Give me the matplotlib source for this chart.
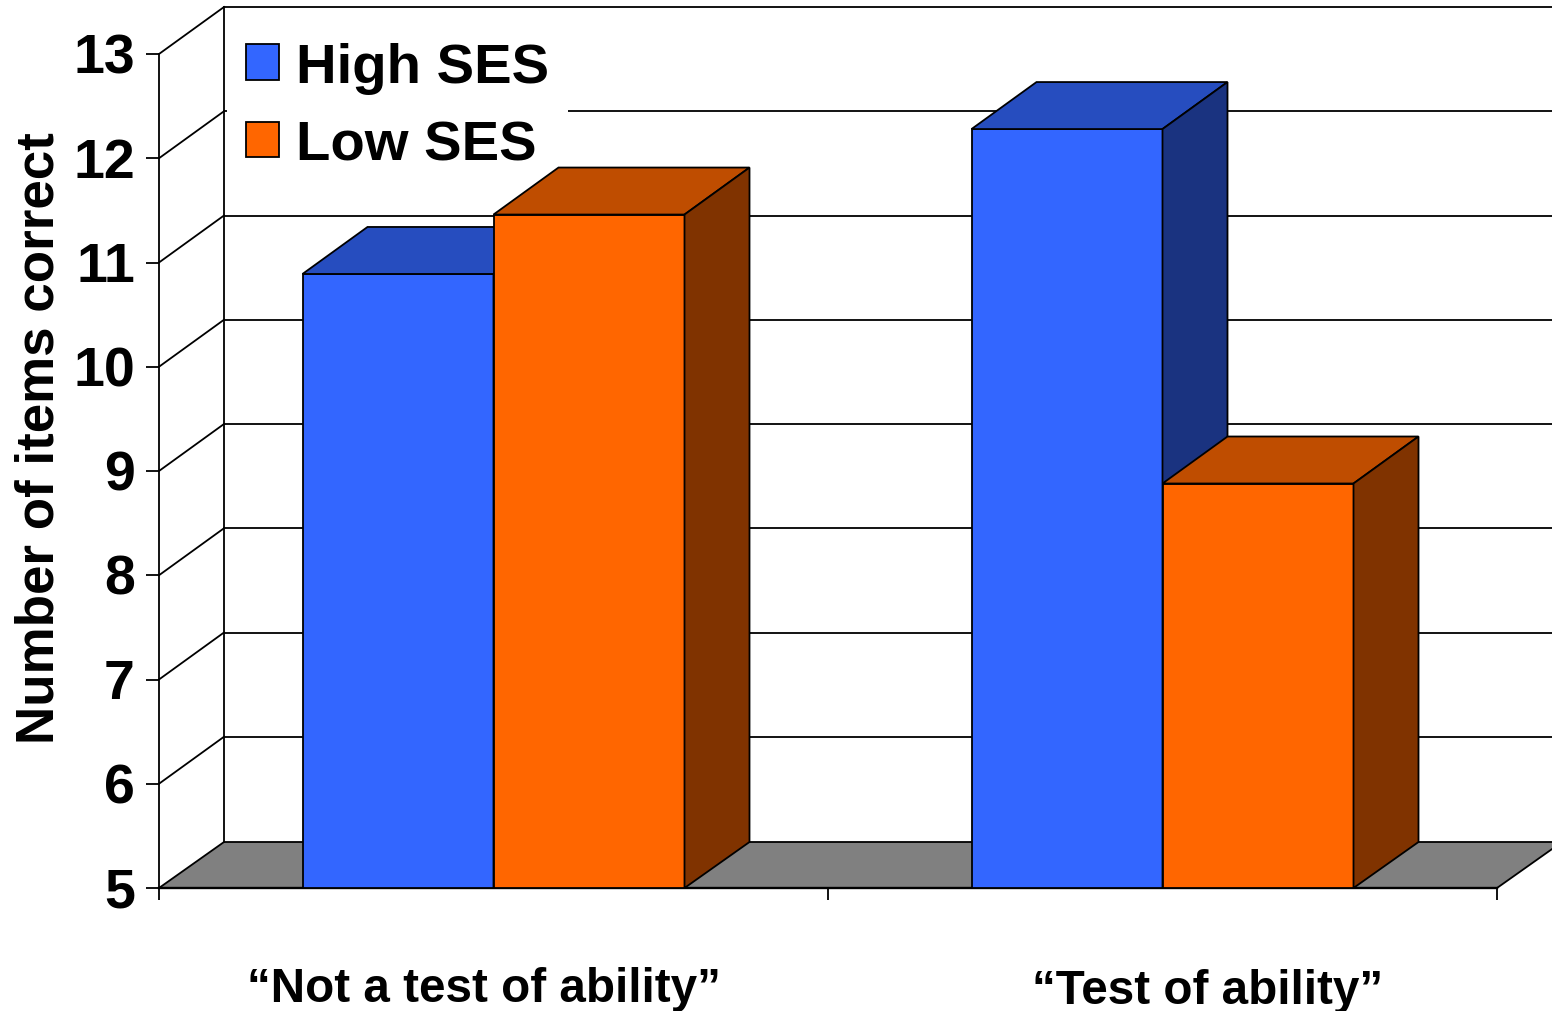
import matplotlib
matplotlib.use("Agg")
import matplotlib.pyplot as plt
from matplotlib.patches import Patch, Polygon
from matplotlib.transforms import ScaledTranslation

plt.rcParams['font.family'] = ['Liberation Sans', 'DejaVu Sans']
plt.rcParams['font.weight'] = 'bold'

conditions = ["\u201cNot a test of ability\u201d", "\u201cTest of ability\u201d"]
high_ses = [10.89, 12.28]
low_ses = [11.46, 8.88]
y_ticks = [5, 6, 7, 8, 9, 10, 11, 12, 13]

BLUE = ('#3366FF', '#264DBF', '#1A3380')
ORANGE = ('#FF6600', '#BF4D00', '#803300')

W, H = 1552, 1012
LEFT, RIGHT, TOP, BOTTOM = 159, 1497, 55, 889

# depth of the fake 3d box, in data units
DX = 65 / 669
DY = 47 / 104.25
FLOOR_DY = 46 / 104.25
BAR_W = 191 / 669
LW = 1.3


def bar3d(ax, x, val, colors):
    x0, x1 = x, x + BAR_W
    ax.bar(x0, val - 5, BAR_W, bottom=5, align='edge', color=colors[0],
           edgecolor='black', linewidth=LW, zorder=3, clip_on=False)
    top = [(x0, val), (x1, val), (x1 + DX, val + DY), (x0 + DX, val + DY)]
    side = [(x1, val), (x1, 5), (x1 + DX, 5 + FLOOR_DY), (x1 + DX, val + DY)]
    ax.add_patch(Polygon(top, fc=colors[1], ec='black', lw=LW, zorder=3, clip_on=False))
    ax.add_patch(Polygon(side, fc=colors[2], ec='black', lw=LW, zorder=3, clip_on=False))


fig = plt.figure(figsize=(W / 100, H / 100), dpi=100)
ax = fig.add_axes([LEFT / W, (H - BOTTOM) / H, (RIGHT - LEFT) / W, (BOTTOM - TOP) / H])
ax.set_xlim(0, 2)
ax.set_ylim(5, 13)

# floor
floor = [(0, 5), (2, 5), (2 + DX, 5 + FLOOR_DY), (DX, 5 + FLOOR_DY)]
ax.add_patch(Polygon(floor, fc='#808080', ec='black', lw=LW, zorder=1, clip_on=False))

# back wall lines and the diagonals going to the axis
for v in y_ticks[1:]:
    ax.plot([DX, 2 + DX], [v + DY, v + DY], color='black', lw=LW, zorder=1, clip_on=False)
    ax.plot([0, DX], [v, v + DY], color='black', lw=LW, zorder=1, clip_on=False)
ax.plot([DX, DX], [5 + FLOOR_DY, 13 + DY], color='black', lw=LW, zorder=2.6, clip_on=False)

for i in range(len(conditions)):
    center = i + 0.5
    bar3d(ax, center - BAR_W, high_ses[i], BLUE)
    bar3d(ax, center, low_ses[i], ORANGE)

ax.spines['top'].set_visible(False)
ax.spines['right'].set_visible(False)
ax.spines['left'].set_linewidth(LW)
ax.spines['bottom'].set_linewidth(1.7)
ax.set_yticks(y_ticks)
ax.set_xticks([0, 1, 2])
ax.set_xticklabels([])
ax.tick_params(axis='y', length=9.4, width=LW, labelsize=40, pad=8)
ax.tick_params(axis='x', length=8.6, width=LW)
# digits sit a little higher than the tick marks
for lab in ax.get_yticklabels():
    lab.set_transform(lab.get_transform() + ScaledTranslation(0, 1.5 / 100, fig.dpi_scale_trans))

ax.set_ylabel("Number of items correct", fontsize=38.1, fontweight='bold', va='center')
ax.yaxis.set_label_coords((40 - LEFT) / (RIGHT - LEFT), (BOTTOM - 438) / (BOTTOM - TOP))

ax.text(0.486, 4.04, conditions[0], fontsize=34.3, fontweight='bold', ha='center', va='center')
ax.text(1.568, 4.02, conditions[1], fontsize=34.3, fontweight='bold', ha='center', va='center')

handles = [Patch(fc=BLUE[0], ec='black', lw=LW), Patch(fc=ORANGE[0], ec='black', lw=LW)]
leg = ax.legend(handles, ["High SES", "Low SES"], loc='upper left',
                bbox_to_anchor=(227 / W, 1 - 24 / H), bbox_transform=fig.transFigure,
                prop={'size': 40.5, 'weight': 'bold'}, frameon=True, fancybox=False,
                framealpha=1, facecolor='white', edgecolor='none', borderaxespad=0,
                borderpad=0.33, handlelength=0.6, handleheight=0.6,
                handletextpad=0.3, labelspacing=0.46)
leg.set_zorder(2.5)

fig.savefig('out.png', dpi=100)
